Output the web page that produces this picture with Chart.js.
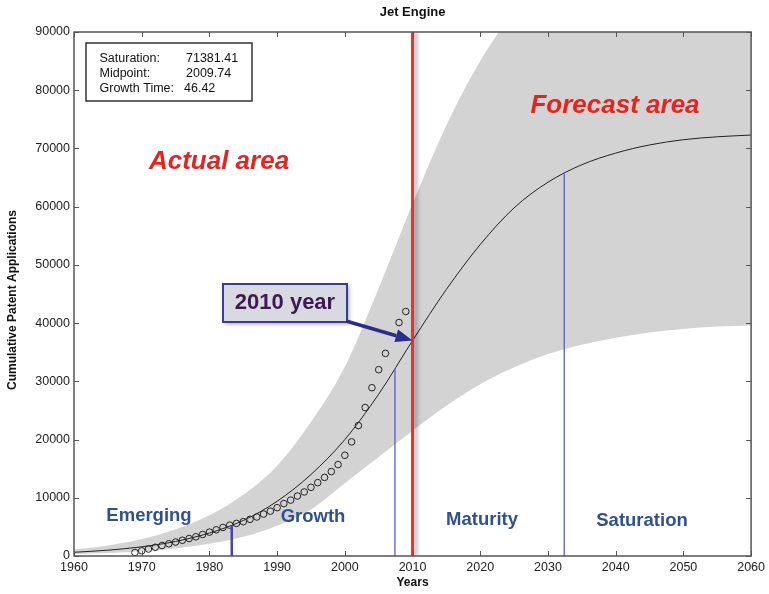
<!DOCTYPE html>
<html>
<head>
<meta charset="utf-8">
<title>Jet Engine</title>
<script src="https://cdn.jsdelivr.net/npm/chart.js@4/dist/chart.umd.min.js"></script>
<style>
  html, body { margin: 0; padding: 0; background: #fff; }
  canvas { display: block; }
</style>
</head>
<body>
<canvas id="grafico" width="769" height="594"></canvas>
<script>
// CURVA AJUSTADA (logistica) E FAIXA DE CONFIANCA, a cada 5 anos
const anosCurva = [1960, 1965, 1970, 1975, 1980, 1985, 1990, 1995, 2000, 2005, 2010,
                   2015, 2020, 2025, 2030, 2035, 2040, 2045, 2050, 2055, 2060];
const curvaAjuste = [640, 1000, 1580, 2500, 3950, 6100, 9400, 14000, 20000, 27800, 37000,
                     45800, 53500, 59800, 64200, 67200, 69200, 70600, 71500, 72000, 72300];
const bandaInferior = [300, 500, 800, 1300, 2100, 3300, 5200, 8000, 12500, 17000, 21500,
                       25800, 29500, 32400, 34700, 36300, 37500, 38400, 39000, 39400, 39600];
const bandaSuperior = [1100, 1800, 2900, 4600, 7000, 10500, 15500, 23000, 32500, 46000, 60500,
                       74000, 85000, 93500, 98500, 101000, 103000, 104500, 105500, 106000, 106500];

// pedidos de patente acumulados (circulos)
const anosDados = [1969, 1970, 1971, 1972, 1973, 1974, 1975, 1976, 1977, 1978, 1979,
                   1980, 1981, 1982, 1983, 1984, 1985, 1986, 1987, 1988, 1989,
                   1990, 1991, 1992, 1993, 1994, 1995, 1996, 1997, 1998, 1999,
                   2000, 2001, 2002, 2003, 2004, 2005, 2006, 2008, 2009];
const patentesAcumuladas = [600, 900, 1200, 1500, 1800, 2100, 2400, 2700, 3000, 3300, 3700,
                            4100, 4500, 4900, 5300, 5600, 5900, 6300, 6700, 7200, 7700,
                            8300, 9000, 9600, 10300, 11000, 11800, 12600, 13500, 14500, 15700,
                            17300, 19600, 22400, 25500, 28900, 32000, 34800, 40100, 42000];

// limites das fases (linhas azuis ate a curva) e ano atual (linha vermelha)
const anosFases = [1983.3, 2007.4, 2032.4];
const alturaFases = [5300, 32200, 65700];
const largurasFases = [2.5, 1.3, 1.3];
const anoAtual = 2010;
const valorAnoAtual = 37000;

const nomesFases = ['Emerging', 'Growth', 'Maturity', 'Saturation'];

// parametros do ajuste
const parametros = [['Saturation:', '71381.41'], ['Midpoint:', '2009.74'], ['Growth Time:', '46.42']];

const fonte = '"Liberation Sans", Arial, sans-serif';
Chart.defaults.font.family = fonte;
Chart.defaults.color = '#222';

const pares = (xs, ys) => xs.map((x, i) => ({ x, y: ys[i] }));

const linhasFases = anosFases.map((ano, i) => ({
  data: [{ x: ano, y: 0 }, { x: ano, y: alturaFases[i] }],
  showLine: true,
  borderColor: i === 0 ? '#4a3cc4' : '#5a5ad0',
  borderWidth: largurasFases[i],
  pointRadius: 0,
  order: 1
}));

// desenhos extras: moldura, textos, caixa 2010 e seta
const decoracao = {
  id: 'decoracao',
  beforeDatasetDraw(chart, args) {
    if (chart.data.datasets[args.index].sombra) {
      const ctx = chart.ctx;
      ctx.save();
      ctx.shadowColor = 'rgba(0,0,0,0.35)';
      ctx.shadowBlur = 4;
      ctx.shadowOffsetX = 3;
    }
  },
  afterDatasetDraw(chart, args) {
    if (chart.data.datasets[args.index].sombra) chart.ctx.restore();
  },
  afterDraw(chart) {
    const ctx = chart.ctx;
    const { left, right, top, bottom } = chart.chartArea;
    const sx = chart.scales.x, sy = chart.scales.y;

    // moldura com ticks para dentro
    ctx.save();
    ctx.strokeStyle = '#555';
    ctx.lineWidth = 1.5;
    ctx.strokeRect(left, top, right - left, bottom - top);
    ctx.lineWidth = 1;
    ctx.beginPath();
    sx.ticks.forEach(t => {
      const px = Math.round(sx.getPixelForValue(t.value)) + 0.5;
      ctx.moveTo(px, bottom); ctx.lineTo(px, bottom - 5);
      ctx.moveTo(px, top); ctx.lineTo(px, top + 5);
    });
    sy.ticks.forEach(t => {
      const py = Math.round(sy.getPixelForValue(t.value)) + 0.5;
      ctx.moveTo(left, py); ctx.lineTo(left + 5, py);
      ctx.moveTo(right, py); ctx.lineTo(right - 5, py);
    });
    ctx.stroke();
    ctx.restore();

    ctx.save();
    ctx.textBaseline = 'middle';
    ctx.textAlign = 'center';

    // titulos
    ctx.fillStyle = '#111';
    ctx.font = 'bold 13px ' + fonte;
    ctx.fillText('Jet Engine', (left + right) / 2, 12);
    ctx.font = 'bold 12px ' + fonte;
    ctx.fillText('Years', (left + right) / 2, 583);
    ctx.save();
    ctx.translate(13, 300);
    ctx.rotate(-Math.PI / 2);
    ctx.fillText('Cumulative Patent Applications', 0, 0);
    ctx.restore();

    // areas
    ctx.fillStyle = '#e8231f';
    ctx.font = 'italic bold 26px ' + fonte;
    ctx.fillText('Actual area', 219, 162);
    ctx.fillText('Forecast area', 615, 106);

    // fases
    ctx.fillStyle = '#2d5191';
    ctx.font = 'bold 18.5px ' + fonte;
    const posFases = [[149, 516], [313, 517], [482, 520], [642, 521]];
    nomesFases.forEach((nome, i) => ctx.fillText(nome, posFases[i][0], posFases[i][1]));

    // caixa dos parametros
    ctx.fillStyle = '#fff';
    ctx.fillRect(86, 43, 166, 58);
    ctx.strokeStyle = '#333';
    ctx.lineWidth = 1.5;
    ctx.strokeRect(86, 43, 166, 58);
    ctx.fillStyle = '#111';
    ctx.font = '12.5px ' + fonte;
    ctx.textAlign = 'left';
    ctx.textBaseline = 'alphabetic';
    parametros.forEach((p, i) => {
      ctx.fillText(p[0], 99.5, 61.5 + i * 15);
      ctx.fillText(p[1], p[1].length > 6 ? 186 : 184, 61.5 + i * 15);
    });

    // caixa "2010 year"
    ctx.save();
    ctx.shadowColor = 'rgba(0,0,0,0.35)';
    ctx.shadowBlur = 4;
    ctx.shadowOffsetX = 2;
    ctx.shadowOffsetY = 2;
    ctx.fillStyle = '#d9d9e2';
    ctx.fillRect(223, 284, 124, 38);
    ctx.restore();
    ctx.strokeStyle = '#3b3b9a';
    ctx.lineWidth = 2;
    ctx.strokeRect(223, 284, 124, 38);
    ctx.fillStyle = '#3d1a4f';
    ctx.font = 'bold 22px ' + fonte;
    ctx.textAlign = 'center';
    ctx.textBaseline = 'middle';
    ctx.fillText(anoAtual + ' year', 285, 303);

    // seta ate a curva em 2010
    const x0 = 346, y0 = 321;
    const x1 = sx.getPixelForValue(anoAtual), y1 = sy.getPixelForValue(valorAnoAtual);
    const ang = Math.atan2(y1 - y0, x1 - x0);
    const comp = 17, meia = 6.5;
    const bx = x1 - comp * Math.cos(ang), by = y1 - comp * Math.sin(ang);
    ctx.strokeStyle = '#2c2c8e';
    ctx.fillStyle = '#2c2c8e';
    ctx.lineWidth = 3.5;
    ctx.beginPath();
    ctx.moveTo(x0, y0);
    ctx.lineTo(bx, by);
    ctx.stroke();
    ctx.beginPath();
    ctx.moveTo(x1, y1);
    ctx.lineTo(bx - meia * Math.sin(ang), by + meia * Math.cos(ang));
    ctx.lineTo(bx + meia * Math.sin(ang), by - meia * Math.cos(ang));
    ctx.closePath();
    ctx.fill();
    ctx.restore();
  }
};

const grafico = new Chart(document.getElementById('grafico'), {
  type: 'scatter',
  data: {
    datasets: [
      {
        data: pares(anosCurva, bandaSuperior),
        showLine: true,
        borderWidth: 0,
        borderColor: 'rgba(0,0,0,0)',
        backgroundColor: '#d3d3d3',
        pointRadius: 0,
        cubicInterpolationMode: 'monotone',
        fill: '+1',
        order: 5
      },
      {
        data: pares(anosCurva, bandaInferior),
        showLine: true,
        borderWidth: 0,
        borderColor: 'rgba(0,0,0,0)',
        pointRadius: 0,
        cubicInterpolationMode: 'monotone',
        order: 5
      },
      {
        data: pares(anosCurva, curvaAjuste),
        showLine: true,
        borderColor: '#222',
        borderWidth: 1,
        pointRadius: 0,
        cubicInterpolationMode: 'monotone',
        order: 3
      },
      {
        data: pares(anosDados, patentesAcumuladas),
        pointRadius: 3.3,
        borderWidth: 1,
        borderColor: '#222',
        backgroundColor: 'rgba(0,0,0,0)',
        order: 2
      },
      ...linhasFases,
      {
        data: [{ x: anoAtual, y: 0 }, { x: anoAtual, y: 90000 }],
        showLine: true,
        borderColor: '#e8312f',
        borderWidth: 3,
        pointRadius: 0,
        sombra: true,
        order: 0
      }
    ]
  },
  options: {
    responsive: false,
    animation: false,
    layout: { padding: { top: 32, right: 17, left: 0, bottom: 0 } },
    scales: {
      x: {
        type: 'linear',
        min: 1960,
        max: 2060,
        grid: { display: false, drawTicks: false },
        border: { display: false },
        ticks: {
          stepSize: 10,
          padding: 4,
          color: '#222',
          font: { size: 12.5 },
          callback: (val) => `${val}`
        },
        afterFit: (escala) => { escala.height = 38; }
      },
      y: {
        min: 0,
        max: 90000,
        grid: { display: false, drawTicks: false },
        border: { display: false },
        ticks: {
          stepSize: 10000,
          padding: 4,
          color: '#222',
          font: { size: 12.5 },
          callback: (val) => `${val}`
        },
        afterFit: (escala) => { escala.width = 74; }
      }
    },
    plugins: {
      legend: { display: false },
      tooltip: { enabled: false }
    }
  },
  plugins: [decoracao]
});
</script>
</body>
</html>
